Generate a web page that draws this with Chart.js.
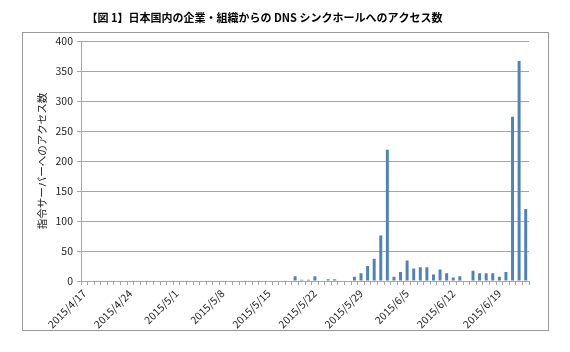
<!DOCTYPE html>
<html>
<head>
<meta charset="utf-8">
<script src="https://cdn.jsdelivr.net/npm/chart.js@4.4.0/dist/chart.umd.min.js"></script>
<style>
  html, body { margin: 0; padding: 0; background: #fff; }
  #wrap { width: 570px; height: 352px; position: relative; }
  #frame {
    position: absolute; left: 22px; top: 32px;
    width: 525px; height: 297px;
    border: 1px solid #9a9a9a;
    pointer-events: none;
  }
</style>
</head>
<body>
<div id="wrap"><canvas id="myChart"></canvas><div id="frame"></div></div>
<script>
const chartTitle = "【図 1】日本国内の企業・組織からの DNS シンクホールへのアクセス数";
const yTitle = "指令サーバーへのアクセス数";

const days = [
  "2015/4/17", "2015/4/18", "2015/4/19", "2015/4/20", "2015/4/21", "2015/4/22", "2015/4/23",
  "2015/4/24", "2015/4/25", "2015/4/26", "2015/4/27", "2015/4/28", "2015/4/29", "2015/4/30",
  "2015/5/1", "2015/5/2", "2015/5/3", "2015/5/4", "2015/5/5", "2015/5/6", "2015/5/7",
  "2015/5/8", "2015/5/9", "2015/5/10", "2015/5/11", "2015/5/12", "2015/5/13", "2015/5/14",
  "2015/5/15", "2015/5/16", "2015/5/17", "2015/5/18", "2015/5/19", "2015/5/20", "2015/5/21",
  "2015/5/22", "2015/5/23", "2015/5/24", "2015/5/25", "2015/5/26", "2015/5/27", "2015/5/28",
  "2015/5/29", "2015/5/30", "2015/5/31", "2015/6/1", "2015/6/2", "2015/6/3", "2015/6/4",
  "2015/6/5", "2015/6/6", "2015/6/7", "2015/6/8", "2015/6/9", "2015/6/10", "2015/6/11",
  "2015/6/12", "2015/6/13", "2015/6/14", "2015/6/15", "2015/6/16", "2015/6/17", "2015/6/18",
  "2015/6/19", "2015/6/20", "2015/6/21", "2015/6/22", "2015/6/23"
];

const accessCounts = [
  0, 0, 0, 0, 0, 0, 0,
  1, 0, 0, 0, 0, 0, 0,
  0, 0, 0, 0, 0, 1, 0,
  0, 0, 0, 0, 0, 0, 0,
  1, 1, 0, 1, 8, 2, 2,
  8, 1, 3, 3, 0, 1, 7,
  13, 25, 37, 76, 219, 7, 15,
  34, 21, 23, 23, 11, 19, 13,
  6, 8, 1, 17, 13, 13, 13,
  7, 15, 274, 367, 120
];

// labels shown every 7 days
const tickEvery = 7;

const ctx = document.getElementById("myChart");

new Chart(ctx, {
  type: "bar",
  data: {
    labels: days,
    datasets: [{
      label: "アクセス数",
      data: accessCounts,
      backgroundColor: "#4f81bd",
      borderWidth: 0,
      barPercentage: 0.45,
      categoryPercentage: 1
    }]
  },
  options: {
    responsive: true,
    maintainAspectRatio: false,
    animation: false,
    layout: {
      padding: { left: 0, right: 41, top: 0, bottom: 0 }
    },
    plugins: {
      legend: { display: false },
      tooltip: { enabled: false },
      title: {
        display: true,
        text: chartTitle,
        color: "#000",
        font: { family: "'Noto Sans CJK JP'", size: 11, weight: "bold" },
        padding: { top: 11, bottom: 17 }
      }
    },
    scales: {
      x: {
        offset: true,
        grid: {
          display: true,
          drawOnChartArea: false,
          offset: true,
          tickLength: 4,
          color: "#a6a6a6"
        },
        border: { color: "#a6a6a6" },
        ticks: {
          autoSkip: false,
          maxRotation: 45,
          minRotation: 45,
          padding: 2,
          color: "#222",
          font: { family: "'Noto Sans CJK JP'", size: 10.5 },
          callback: function (value, index) {
            return index % tickEvery === 0 ? days[index] : "";
          }
        },
        afterFit: (scale) => { scale.height = 71; }
      },
      y: {
        min: 0,
        max: 400,
        ticks: {
          stepSize: 50,
          padding: 4,
          color: "#222",
          font: { family: "'Noto Sans CJK JP'", size: 10.5 }
        },
        grid: {
          color: "#a6a6a6",
          tickLength: 4
        },
        border: { color: "#a6a6a6" },
        title: {
          display: true,
          text: yTitle,
          color: "#222",
          padding: { top: 36, bottom: 0 },
          font: { family: "'Noto Sans CJK JP'", size: 10.5 }
        },
        afterFit: (scale) => { scale.width = 81; }
      }
    }
  }
});
</script>
</body>
</html>
